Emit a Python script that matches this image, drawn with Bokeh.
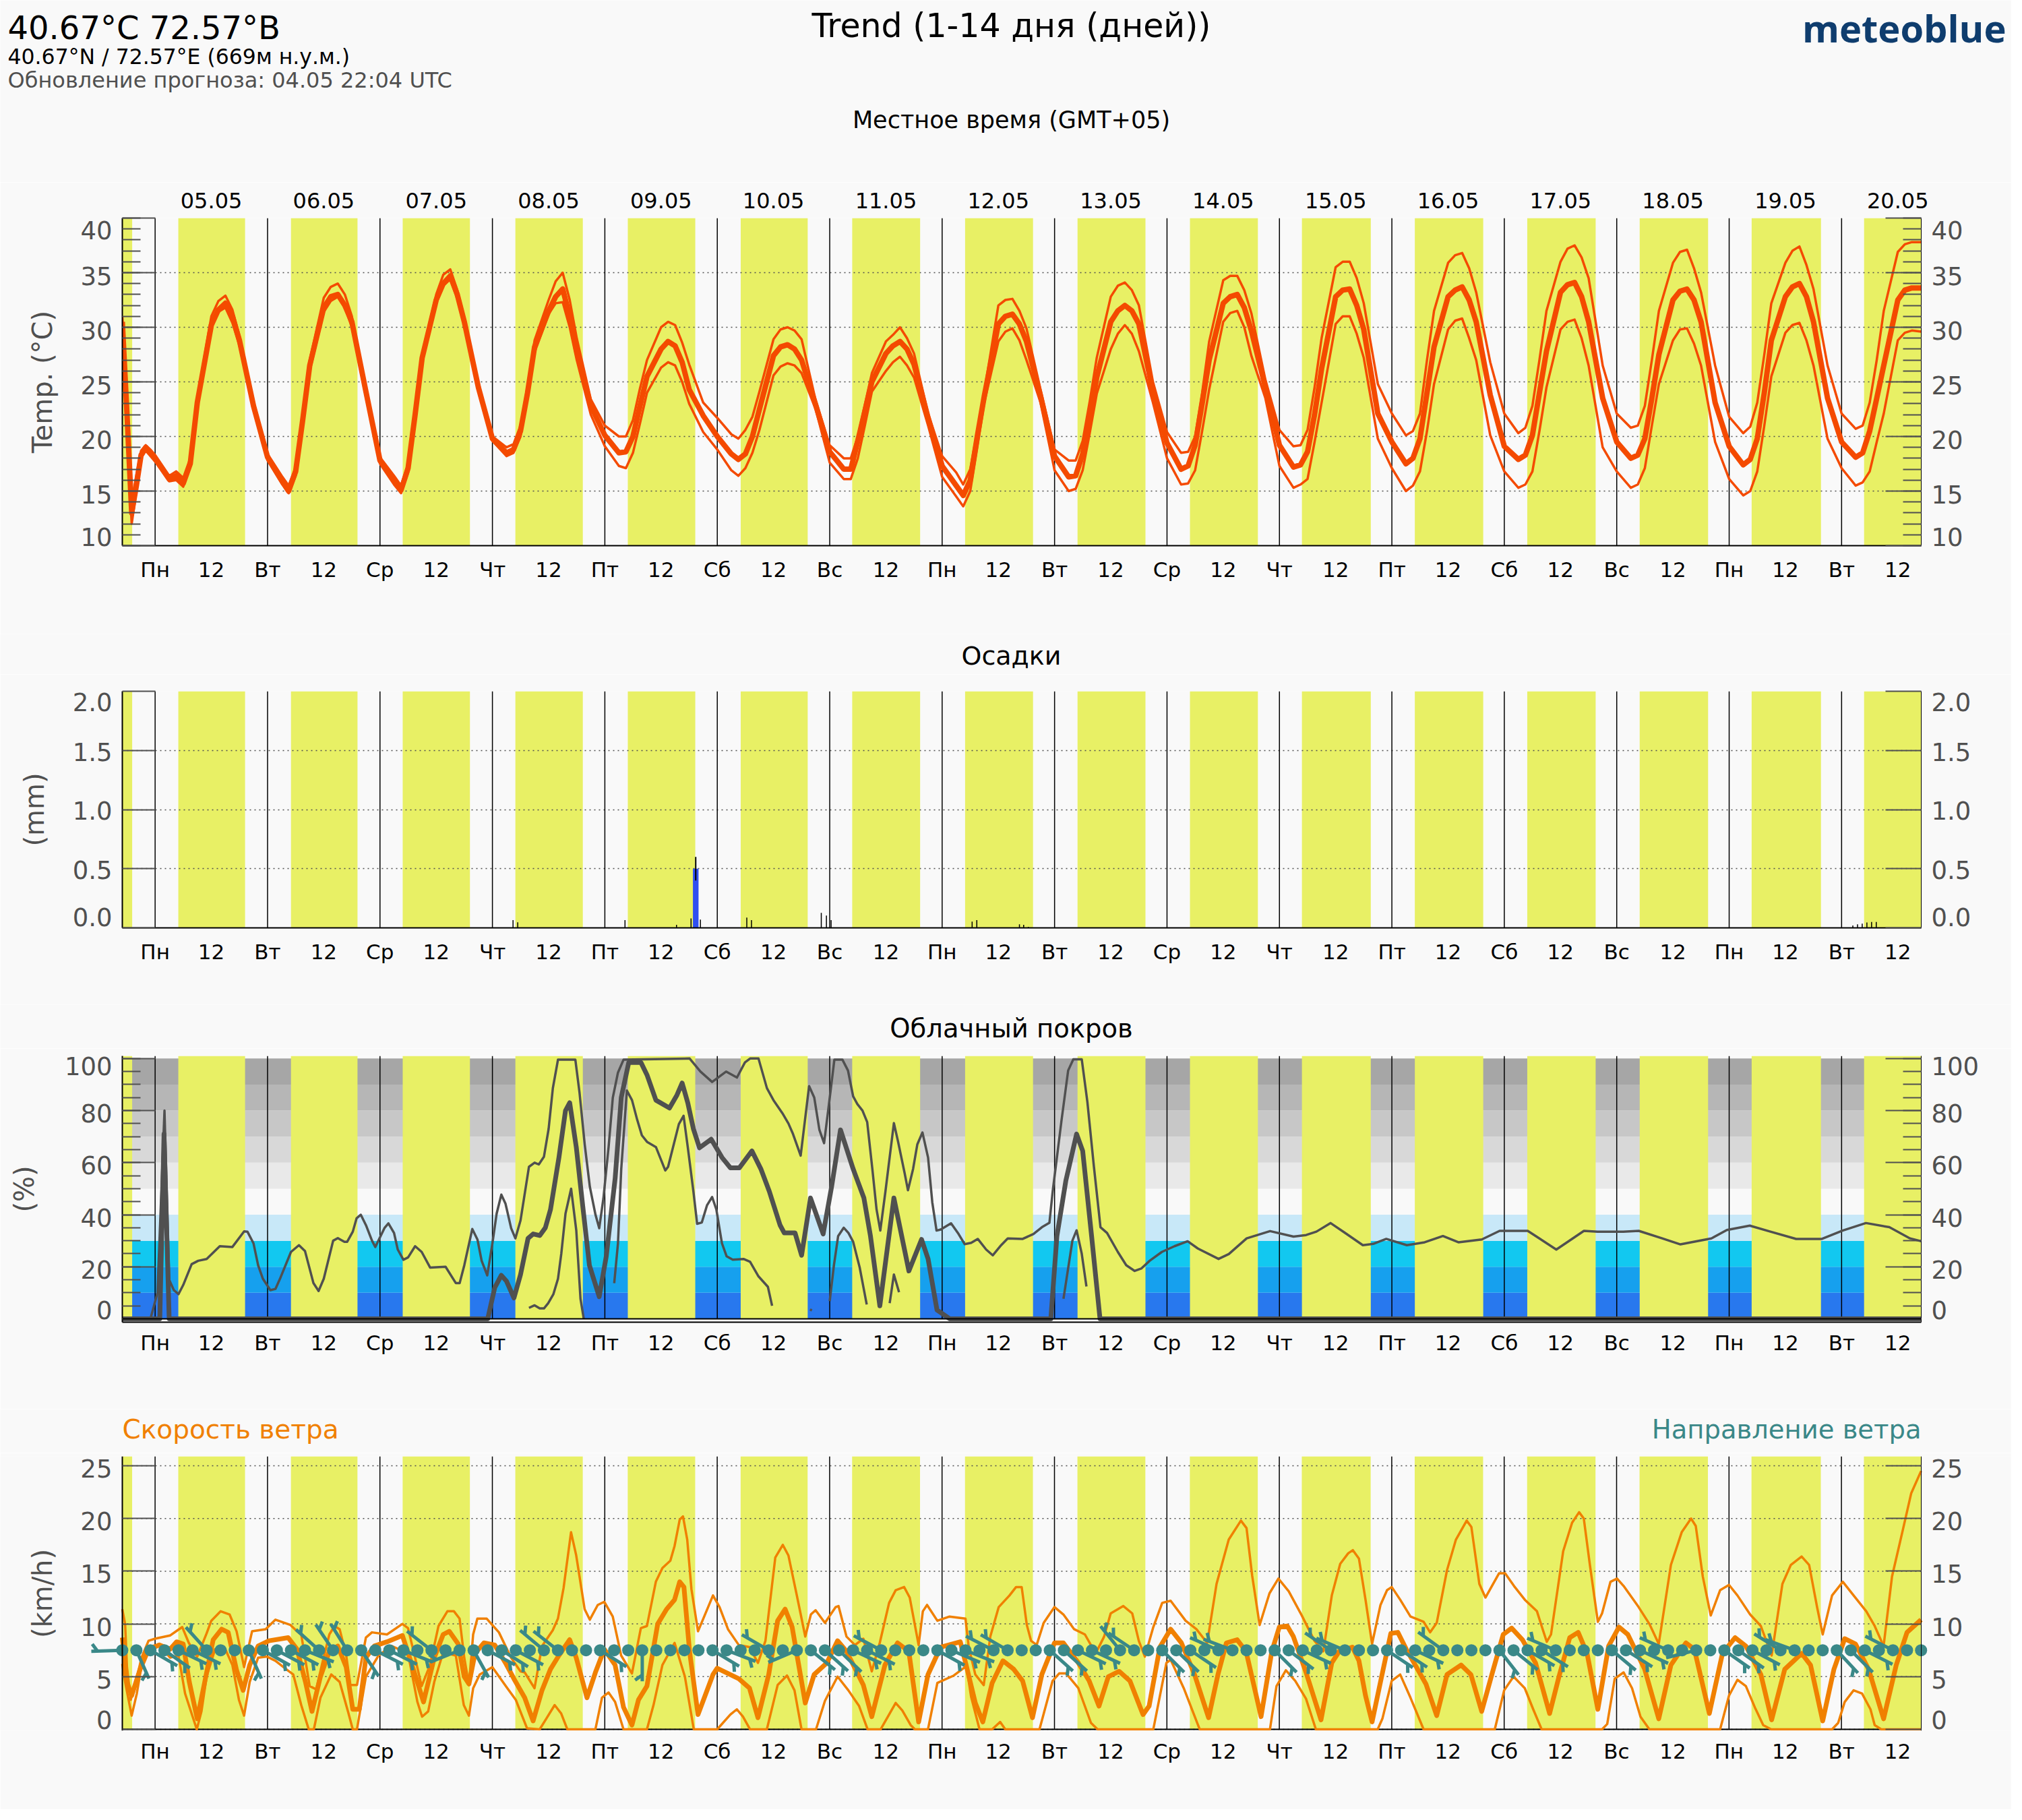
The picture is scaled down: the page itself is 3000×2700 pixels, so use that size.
import numpy as np
from bokeh.core.properties import value
from bokeh.embed import file_html
from bokeh.layouts import column
from bokeh.models import FixedTicker, Grid, LinearAxis, Range1d, Span
from bokeh.plotting import figure
from bokeh.resources import INLINE

BG = "#f9f9f9"
YELLOW = "#e8f065"
TEMP_COLOR = "#f44a00"
CLOUD_COLOR = "#505050"
WIND_COLOR = "#f08000"
TEAL = "#3a8888"
FONT = "DejaVu Sans"
PAGE_WIDTH = 2984

# the hour axis: 0 is midnight of 05.05
HOUR_START = -7
HOUR_END = 377
X_ZERO = 229.6
HOUR_PX = 6.95

day_names = ["Пн", "Вт", "Ср", "Чт", "Пт", "Сб", "Вс", "Пн", "Вт", "Ср", "Чт", "Пт", "Сб", "Вс", "Пн", "Вт"]
dates = ["05.05", "06.05", "07.05", "08.05", "09.05", "10.05", "11.05", "12.05",
         "13.05", "14.05", "15.05", "16.05", "17.05", "18.05", "19.05", "20.05"]

# daylight, hours since 05.05 00:00
sun_up = [-7, 4.95, 29, 52.85, 76.9, 100.9, 125, 148.8, 172.9, 196.9, 220.9, 244.8, 268.9, 292.9, 316.9, 340.8, 364.8]
sun_down = [-4.9, 19.2, 43.2, 67.2, 91.3, 115.3, 139.3, 163.3, 187.4, 211.4, 235.4, 259.5, 283.5, 307.5, 331.5, 355.6, 377]

# first the hours before midnight, then one row per day, then the last short day
temp_day_hours = [0, 3, 4.5, 6, 7.5, 9, 12, 13.5, 15, 16.5, 18, 21]
temp_hours = [-7, -6, -5, -4, -3, -2, -1]
for day in range(15):
    temp_hours += [24 * day + h for h in temp_day_hours]
temp_hours += [360, 363, 364.5, 366, 367.5, 369, 372, 373.5, 375, 377]

temp_mean = [
    30.5, 22, 13, 15.5, 18.3, 19, 18.5,
    18, 16.1, 16.4, 15.7, 17.5, 23.1, 30.2, 31.6, 32.2, 31, 28.8, 22.8,
    18.1, 16, 15, 16.8, 21.5, 26.5, 31.8, 32.8, 33, 32, 30.5, 24.1,
    17.8, 16, 15.1, 17.1, 22, 27.2, 32.5, 34, 34.7, 33, 30.5, 24.5,
    19.8, 18.5, 18.8, 20.5, 24, 28.2, 31.5, 32.8, 33.5, 31, 27.8, 22.8,
    20.1, 18.5, 18.6, 20, 22.8, 25.5, 28, 28.7, 28.3, 26.8, 24.3, 21.9,
    20, 18.4, 17.9, 18.4, 20, 22.5, 27.4, 28.2, 28.4, 28, 27, 22.9,
    18.6, 17, 17, 19.6, 22.3, 25, 27.6, 28.3, 28.7, 28, 26.6, 21.7,
    17.3, 15.5, 14.6, 16, 20, 23.7, 30.3, 31, 31.2, 30.3, 28.7, 23.7,
    18.2, 16.3, 16.4, 18.4, 21.8, 25.4, 30.5, 31.5, 32, 31.5, 30.3, 24.1,
    19.4, 17, 17.3, 19.2, 23, 27, 32.2, 32.8, 33, 31.8, 29.7, 24.5,
    19.2, 17.2, 17.4, 18.6, 22, 26.2, 32.8, 33.4, 33.5, 32, 29.8, 22.1,
    19.5, 17.5, 18, 19.8, 24, 28.2, 32.8, 33.4, 33.7, 32.5, 30.5, 23.8,
    19.1, 17.9, 18.3, 20.1, 24, 27.8, 33.2, 33.9, 34.1, 32.8, 30.5, 23.5,
    19.5, 18, 18.3, 19.8, 23.5, 27.5, 32.5, 33.3, 33.5, 32.5, 30.5, 23.1,
    19.1, 17.4, 17.9, 19.8, 24, 28.8, 32.8, 33.7, 34, 32.8, 30.5, 23.5,
    19.5, 18.1, 18.5, 20.5, 23.5, 26.5, 32.5, 33.4, 33.6, 33.6,
]
temp_upper = [
    31, 23, 14, 16.5, 18.7, 19.2, 18.8,
    18.3, 16.4, 16.8, 16.2, 18, 23.5, 31, 32.4, 32.9, 31.6, 29.2, 23.2,
    18.4, 16.4, 15.5, 17.2, 22, 27, 32.7, 33.7, 34, 33, 31, 24.5,
    18.1, 16.4, 15.5, 17.5, 22.4, 27.6, 33, 34.8, 35.3, 33.4, 30.9, 24.8,
    20, 19, 19.3, 21, 24.6, 28.8, 32.5, 34.2, 35, 32.5, 29, 23.4,
    21, 20, 20, 21.5, 24.4, 27, 30, 30.5, 30.2, 28.6, 26.6, 23.1,
    21.7, 20.2, 19.8, 20.6, 21.8, 24.1, 28.9, 29.8, 30, 29.7, 28.9, 23.3,
    19.2, 18, 18, 20, 22.9, 25.8, 28.7, 29.3, 30, 29, 27.6, 22.1,
    18.2, 16.7, 15.6, 17, 20.5, 24.1, 32, 32.5, 32.6, 31.5, 29.9, 24.3,
    18.8, 17.8, 17.8, 19.6, 23.2, 27.2, 32.8, 33.8, 34.1, 33.4, 32, 25,
    20.4, 18.5, 18.6, 20, 24, 28.7, 34.3, 34.7, 34.7, 33.4, 31.3, 25.2,
    20.6, 19.1, 19.2, 20.6, 24.5, 29, 35.5, 36, 36, 34.5, 32.2, 24.8,
    22.1, 20.1, 20.5, 22.1, 27, 31.5, 35.9, 36.6, 36.8, 35.4, 33.2, 26.8,
    22.1, 20.3, 20.8, 22.8, 27, 31.5, 36, 37.2, 37.5, 36.4, 34.5, 26.5,
    22.1, 20.8, 21, 22.8, 27, 31.5, 35.9, 36.9, 37.1, 35.4, 33.2, 26.5,
    21.8, 20.3, 20.9, 23.1, 27.5, 32.2, 35.9, 37, 37.4, 35.7, 33.5, 26.5,
    22.1, 20.7, 21, 23.1, 27, 31.5, 36.9, 37.6, 37.8, 37.8,
]
temp_lower = [
    29, 20, 12, 15, 18, 18.7, 18.2,
    17.7, 15.9, 16, 15.4, 17.2, 22.6, 30.1, 31.4, 31.8, 30.4, 28.3, 22.5,
    17.8, 15.7, 14.8, 16.4, 21, 26, 31.4, 32.4, 32.8, 31.8, 30, 23.6,
    17.5, 15.6, 14.8, 16.7, 21.5, 26.9, 32.2, 33.8, 34.4, 32.6, 30.2, 24.2,
    19.6, 18.2, 18.5, 20, 23.5, 27.7, 31.2, 32.2, 32.3, 30, 27, 22,
    19.1, 17.3, 17.1, 18.5, 21.2, 24, 26.3, 26.8, 26.5, 25, 23, 20.4,
    18.8, 16.9, 16.4, 17.1, 18.5, 20.6, 25.6, 26.4, 26.7, 26.5, 25.8, 22.5,
    17.6, 16.1, 16.1, 18, 21, 24.1, 26, 26.8, 27.3, 26.5, 25.4, 21,
    16.3, 14.5, 13.6, 15, 19, 23.1, 28.7, 29.6, 29.9, 28.8, 27, 23.1,
    16.9, 15, 15.2, 16.9, 20.3, 23.9, 28, 29.4, 30.2, 29.4, 27.8, 23.1,
    18, 15.6, 15.7, 16.9, 20.5, 24.3, 30.5, 31.3, 31.5, 30, 27.4, 23.5,
    17.3, 15.3, 15.6, 16.1, 19.5, 23.1, 30.3, 31, 31, 29.4, 27.2, 19.8,
    17.1, 15, 15.5, 16.8, 20.5, 24.8, 29.8, 30.6, 30.8, 29, 27, 20.1,
    16.8, 15.3, 15.6, 16.8, 20.5, 24.5, 29.8, 30.5, 30.7, 29, 26.5, 19,
    16.8, 15.3, 15.6, 17.1, 21, 24.8, 28.8, 29.8, 29.9, 28.5, 26.5, 19.5,
    16.1, 14.6, 15, 16.8, 21, 25.5, 29.5, 30.2, 30.4, 28.8, 26.5, 19.8,
    17.1, 15.5, 15.8, 16.8, 19.5, 22.1, 28.8, 29.5, 29.7, 29.6,
]

precip_hours = [115.4]
precip_values = [0.5]
precip_low = [0.4]
precip_high = [0.6]
trace_hours = [76.4, 77.4, 100.3, 111.3, 114.4, 116.4, 126.3, 127.3, 142.2, 143.3, 144.3, 174.4, 175.4, 184.5, 185.4, 186.4,
               362.4, 363.4, 364.4, 365.4, 366.4, 367.4]
trace_values = [0.065, 0.047, 0.065, 0.025, 0.08, 0.07, 0.087, 0.065, 0.127, 0.104, 0.065,
                0.053, 0.065, 0.03, 0.025, 0.008, 0.02, 0.03, 0.035, 0.045, 0.05, 0.05]

# cloud backdrop, every 10 %, from the bottom up
cloud_levels = [0, 10, 20, 30, 40, 50, 60, 70, 80, 90, 100]
cloud_shades = ["#2878ee", "#16a0ee", "#12c8f0", "#c8e8f8", BG, "#e9e9e9", "#d8d8d8", "#c7c7c7", "#b6b6b6", "#a6a6a6"]

cloud_upper = [
    (-1, 0), (0.5, 10), (2, 80), (3, 15), (4, 11), (5, 9.5), (6, 13), (7.8, 21), (9.2, 22.3), (11, 23), (13.8, 27.9),
    (16.5, 27.6), (19, 33.6), (19.7, 33.5), (21, 29), (22, 20.5), (23, 15.4), (24.6, 11), (25.7, 11.5), (26.8, 16),
    (29, 25.7), (30.7, 28.3), (32, 26), (33.8, 13.7), (34.9, 10.7), (36, 15.4), (38, 30), (39, 31), (40.4, 29.6),
    (41, 29.6), (42.2, 33.5), (43, 38.6), (43.9, 40), (45, 36), (46.3, 30), (47, 27.6), (49, 35), (49.8, 36.7),
    (51, 33), (51.8, 26.6), (53, 22.7), (54, 23.6), (55.5, 27.9), (56.9, 25.7), (58.7, 19.7), (62, 20), (64.2, 13.7),
    (65, 13.7), (66, 20.6), (67.7, 34.5), (68.8, 30.5), (69.7, 22.3), (70.9, 16.7), (72, 29), (72.9, 40.4), (73.9, 47.7),
    (74.8, 44.2), (76, 34.8), (76.9, 30.9), (78, 37.8), (79.8, 58.4), (81, 60), (81.9, 59.3), (83, 62.3), (84, 73),
    (84.9, 88.6), (86, 99.6), (89.7, 99.6), (90.6, 86.8), (91.7, 67), (92.8, 50.7), (94, 40), (94.8, 34.8), (95.7, 46.4),
    (96.8, 66), (97.7, 85), (98.8, 94.6), (100, 99.6), (114.1, 100), (116.4, 95), (118.9, 91), (121.9, 95), (124.2, 92.7),
    (125.9, 98.5), (127, 100), (128.8, 100), (130.6, 88.6), (132, 84), (133.9, 79), (135.2, 75), (136.1, 71.3), (137.8, 62.7),
    (139.6, 89.4), (140.7, 85), (141.8, 72.6), (142.8, 67.5), (143.9, 83.4), (145, 99.6), (146.7, 99.6), (147.9, 95.4),
    (149, 85.5), (149.9, 82.5), (151, 80), (152, 75.6), (153.1, 57.6), (154, 42), (154.8, 33.9), (155.9, 49), (157.7, 75.2),
    (158.6, 68), (160, 55.9), (160.7, 49.4), (161.8, 57.6), (162.7, 67), (163.8, 71.6), (165, 61.9), (165.9, 44.7),
    (166.8, 33.9), (167.7, 34.3), (169.9, 36.7), (171.5, 32.6), (172.8, 28.7), (174.2, 29.2), (175.6, 30.7), (177.4, 26.6),
    (178.8, 24.4), (180.6, 28.3), (182, 30.9), (185.2, 30.7), (187.5, 32.6), (189.3, 35.2), (190.9, 36.9), (191.6, 49),
    (193.5, 76.5), (194.9, 95.4), (196, 99.7), (197.8, 99.7), (199, 83.4), (200.4, 58.4), (201.8, 35.2), (203.2, 33),
    (205.5, 25.7), (207.3, 20.6), (209.1, 18.4), (210.5, 19.3), (212.3, 22.3), (214.9, 25.7), (217.6, 27.9), (220.4, 29.8),
    (222.6, 27), (227, 23), (229.2, 24.9), (233, 30.9), (238, 33.7), (243, 31.6), (245.7, 32.2), (247.9, 33.5), (250.9, 36.8),
    (254, 33), (257.8, 28.3), (260, 28.8), (262.8, 30.7), (267.2, 28.3), (271, 29.4), (274.9, 31.8), (278.2, 29.4),
    (283.2, 30.5), (287, 33.8), (293, 33.8), (299.1, 26.6), (305, 33.8), (307.9, 33.5), (313.4, 33.5), (316.7, 33.8),
    (321.7, 30.9), (325.6, 28.6), (332.2, 30.9), (335.5, 34.1), (340.4, 35.8), (344.8, 33.5), (350.3, 30.7), (355.8, 30.7),
    (360.2, 33.9), (365.2, 36.8), (370.2, 35.2), (374.6, 30.9), (377, 29.8),
]
cloud_mean = [
    (-7, 0), (1, 0), (1.9, 71), (3, 0), (71, 0), (72.5, 12), (73.9, 16.7), (75, 14.5), (76.6, 8), (78, 17), (79.6, 30.9),
    (80.7, 32.6), (82.1, 32), (83.3, 35), (84.4, 42), (86.2, 62), (87.6, 80), (88.5, 83), (89.9, 66), (91.3, 43),
    (92.7, 20.6), (94.8, 8.5), (96.3, 24), (98.2, 54), (99.5, 85), (101.1, 98.5), (103.7, 98.5), (105, 93.7), (106.9, 84),
    (109.8, 81), (111.4, 86), (112.5, 90.6), (113.7, 83), (114.9, 73), (116.2, 65.7), (118.7, 69), (121, 62), (122.8, 58),
    (124.7, 58), (127.4, 64.5), (129.3, 57.6), (131.1, 49), (133.4, 36), (134.3, 33), (136.6, 33), (138, 24.4), (139.9, 46.4),
    (142.6, 32.6), (144.4, 50.7), (146.3, 72.6), (149, 57.6), (151.3, 46.4), (152.7, 31.8), (154.7, 5), (157.7, 46.4),
    (160.9, 18.4), (163.6, 30.5), (165, 23), (166.9, 3.4), (169.6, 0), (191.2, 0), (192.5, 31.8), (194.4, 53), (196.7, 71),
    (198, 64.5), (199.9, 31.8), (201.7, 0), (377, 0),
]
cloud_lower_parts = [
    [(79.8, 4.2), (81, 5.2), (82.1, 4), (83, 4), (83.9, 6), (85, 9.4), (86, 15.4), (86.7, 25), (87.6, 40.4), (88.8, 50),
     (89.9, 34), (90.8, 7.7), (91.5, 0)],
    [(98, 13.7), (98.8, 29), (99.5, 57.6), (100.7, 87.7), (101.8, 84), (102.9, 76.5), (103.9, 70.5), (105, 68), (106.9, 66),
     (108.9, 57), (109.5, 58.4), (111.8, 74.8), (112.8, 78), (113.7, 66), (114.9, 49), (115.7, 36.5), (116.7, 37), (117.8, 43.6),
     (118.9, 46.8), (119.8, 42), (121, 29), (122, 24), (123.3, 22.7), (125.6, 23), (127, 21.9), (128.8, 16.3), (130.8, 12.3),
     (131.7, 5)],
    [(139.8, 3.6), (140.2, 3.2)],
    [(144, 6.8), (144.9, 20.6), (145.8, 31.8), (147, 35), (148, 33), (149, 29.6), (150.4, 19.7), (151.9, 5.5)],
    [(156.8, 6), (157.7, 17), (158.8, 10.2)],
    [(193.9, 7.7), (195.8, 30), (196.7, 34), (197.8, 25), (198.8, 12.4)],
]

wind_upper = [
    (-7, 11.4), (-6.4, 10), (-6, 5.9), (-5.2, 2.8), (-4.1, 4.5), (-2.9, 6.8), (-1.4, 8.4), (0, 8.6), (3.2, 8.9), (4.8, 9.4),
    (5.8, 9.7), (7.2, 8.2), (9, 6.9), (11, 9.1), (12, 10.3), (14, 11.2), (15.9, 10.9), (17.4, 9.3), (19, 5.9), (20.7, 9.3),
    (23.6, 9.5), (25.7, 10.4), (28.9, 9.9), (30.3, 9.3), (31.2, 9), (33, 4.1), (34.4, 3.8), (35.6, 6.1), (37.2, 9), (38.3, 9.8),
    (39.4, 9.5), (40.8, 7), (41.7, 4.2), (43.1, 4.2), (45, 8.7), (46.3, 9.2), (49.5, 9), (52.8, 10), (54, 9.6), (55.5, 6.8),
    (56.9, 4.1), (58.7, 6.1), (60.5, 9.8), (62.4, 11.2), (63.8, 11.2), (65, 10.5), (66, 6.8), (67, 4.2), (67.9, 9), (68.8, 10.5),
    (70.8, 10.5), (73.4, 9.2), (76, 6.8), (78, 5.5), (78.9, 5.4), (81, 3.9), (82.6, 7.9), (84.9, 9.4), (86, 10.5), (87.2, 13.4),
    (88.8, 18.7), (89.9, 16.5), (91.7, 11.4), (92.8, 10.4), (94.5, 11.8), (95.9, 12.1), (97.7, 10.7), (99.5, 7), (101.8, 5.3),
    (103.7, 9.6), (105, 9.8), (106.9, 14), (108.3, 15.3), (110, 16), (110.9, 17.4), (112, 19.9), (112.7, 20.2), (113.6, 18),
    (114.5, 13.3), (115.9, 9.3), (119.1, 12.7), (120.5, 11.6), (122.3, 9.5), (124.6, 8), (126.9, 7.8), (128.7, 6.3), (130.3, 8.4),
    (132.4, 16.3), (134, 17.5), (135.2, 16.5), (137, 12.7), (138.8, 8.8), (140, 10.9), (141, 11.3), (143, 10.1), (145.3, 11.6),
    (145.9, 11.7), (147.6, 8.8), (149.4, 8), (151.2, 8.6), (153, 5.5), (154.7, 8.2), (156.7, 12), (158.1, 13.2), (159.9, 13.5),
    (161.1, 12.5), (163, 8), (163.9, 11.2), (164.8, 11.8), (167, 10.3), (169.6, 10.7), (173, 10.5), (173.7, 7.8), (175.1, 5.2),
    (176.9, 4.2), (178.3, 8.8), (180.1, 11.6), (182.4, 12.7), (183.8, 13.5), (185, 13.5), (186.1, 9.9), (187, 8.4), (188.2, 8),
    (189.7, 10.1), (192, 11.6), (193.9, 10.9), (196.2, 9.5), (198.5, 9), (200.8, 7.2), (202.6, 8.8), (204, 11), (206.7, 11.7),
    (208.6, 11), (210, 8.4), (211.3, 6.9), (213.1, 9.7), (215, 12), (216.8, 12.2), (220, 10.3), (222.3, 9.5), (224.6, 8.2),
    (226.6, 13.8), (229.2, 18), (231.8, 19.8), (233, 19.1), (234.2, 14.6), (235.8, 9.9), (237.9, 12.9), (239.8, 14.3), (242, 13.1),
    (244.8, 10.8), (247.5, 8.4), (249.4, 7.4), (251.2, 12.7), (253, 15.7), (254.7, 16.7), (255.7, 17), (257, 16.2), (258.4, 12.3),
    (259.8, 8.1), (261.6, 11.8), (263, 13.2), (264, 13.5), (265.8, 12.3), (268, 10.7), (270.8, 10.2), (272.2, 9.2), (273.6, 10.1),
    (275.8, 15.1), (277.7, 18), (280, 19.8), (281, 19.2), (282.7, 13.8), (284, 12.5), (286.9, 14.8), (288.2, 14.8), (290.1, 13.6),
    (292.4, 12.3), (295, 11.2), (296, 9.8), (297.1, 8.3), (298, 9), (300.6, 16.9), (302.5, 19.6), (304, 20.6), (305, 20), (306.3, 15.6),
    (308, 10.2), (308.9, 11), (310.7, 14), (312.1, 14.3), (313.5, 13.6), (316.7, 11.6), (319, 10), (321, 8.1), (323.6, 15.6),
    (325.9, 18.7), (327.9, 20), (328.9, 19.3), (330.4, 14.5), (332.1, 10.8), (334.1, 13.2), (336, 13.7), (337.8, 12.7), (340.5, 10.9),
    (342.8, 9.8), (345.1, 7), (347.4, 13.8), (349.2, 15.6), (351.5, 16.4), (353.1, 15.6), (354.8, 11.6), (356, 9), (358, 12.7),
    (360.3, 14), (362.6, 12.7), (365.3, 11.2), (367.1, 9.8), (369, 7.9), (370.8, 14.5), (373.1, 18.9), (374.9, 22.4), (377, 24.5),
]
wind_mean = [
    (-7, 8.7), (-6, 4.5), (-5, 3.2), (-3.2, 5.7), (-1.4, 7.6), (0.9, 8), (3.2, 7.6), (4.6, 8.3), (6, 8.1), (7.3, 4.5), (9, 1),
    (10.6, 4.5), (12.4, 8.5), (14.2, 9.5), (15.6, 9.2), (17.4, 5.6), (18.8, 3.7), (20.2, 6.1), (22, 7.9), (24.3, 8.4), (28.4, 8.7),
    (30.3, 7.6), (32.1, 4.5), (33.5, 1.7), (35.3, 5), (37.2, 7.4), (39, 7.9), (40.8, 5.9), (42.2, 1.9), (43.6, 1.9), (45, 6.8),
    (46.8, 7.9), (49.5, 8.3), (52.8, 8.9), (55, 5.9), (57.3, 2.6), (59.6, 6.8), (61.5, 9), (62.8, 9.3), (64.7, 8.1), (66, 5),
    (67, 4.3), (68.3, 7.2), (70.2, 8.2), (72.5, 8), (74.8, 6.3), (76.6, 4.8), (78.9, 3), (80.7, 0.8), (82.6, 3.7), (84.4, 5.7),
    (86.2, 7), (88.5, 8.5), (89.9, 6.8), (92.2, 3), (94, 5.4), (95.9, 7.6), (98.2, 6.1), (100, 2.1), (101.8, 0.4), (103.2, 2.8),
    (105, 4.1), (107.3, 10), (109.2, 11.4), (110.9, 12.3), (112, 14), (112.9, 13.5), (114.1, 7.4), (115.9, 1.4), (119.1, 5.2),
    (120, 5.8), (124.6, 4.8), (126.9, 3.9), (128.7, 1.1), (131, 5.2), (132.9, 10.3), (134.5, 11.4), (136, 9.7), (138.8, 2.5),
    (140.7, 5.2), (143.4, 6.3), (145.7, 8.4), (147.6, 7.4), (151.2, 4.2), (153, 1.2), (155.8, 6.1), (158.5, 8.2), (160.9, 7.4), (163, 0.7),
    (165, 5.2), (167.7, 7.8), (171.9, 8.3), (173.2, 6), (175.1, 2.5), (176.7, 0.7), (178.7, 4.4), (181, 6.5), (183.3, 5.7), (185.2, 4.6),
    (187.3, 1.1), (189.3, 5.2), (192, 8.2), (193.9, 8.2), (197.1, 6.3), (199.4, 4.6), (201.5, 2.2), (203.5, 5), (205.8, 5.5), (208.1, 4.6),
    (210.9, 1.4), (212.2, 2.2), (214.5, 7.8), (216.8, 9.5), (219.1, 8.2), (221.9, 5.2), (224.9, 1.1), (226.9, 5.2), (228.7, 8.2), (231, 8.5),
    (232.9, 7.4), (236.1, 1.2), (238.4, 7.4), (240, 9.7), (241.7, 9.8), (243, 8.8), (245.7, 5.4), (248.9, 0.9), (251.2, 6.3), (252.8, 7.4),
    (255.6, 7.8), (257, 6.5), (258.4, 3.2), (259.8, 0.7), (261.6, 4.5), (263.8, 9.1), (265.3, 9.2), (267.1, 7.6), (271.3, 4.3), (273.6, 1.3),
    (275.8, 5.2), (278.8, 6.1), (280.9, 5.2), (283.2, 1.7), (285.5, 5.4), (287.8, 9), (289.6, 9.6), (291.9, 8.5), (294.7, 6.3), (297.7, 1.5),
    (299.7, 5), (302, 8.7), (303.8, 9.2), (305.7, 7.2), (308, 1.9), (310.3, 7.9), (312.5, 9.7), (314.4, 9), (318, 5.7), (321, 1),
    (323.6, 6.1), (326.8, 8.2), (328.6, 7.6), (331.8, 1.5), (334.6, 7.2), (337.3, 8.7), (339.6, 7.9), (342.8, 5.2), (345.1, 0.9),
    (347.9, 5.7), (351.5, 7.2), (353.4, 6.1), (356, 0.8), (358.4, 5.7), (360.7, 8.6), (363, 8.1), (365.8, 5.7), (369, 1), (371.7, 6.1),
    (374, 9.2), (377, 10.4),
]
wind_lower = [
    (-7, 6.2), (-6.4, 4.5), (-5, 1.3), (-3.9, 3.4), (-2.8, 6.3), (-0.9, 7.9), (0.9, 8), (3.2, 6.8), (5, 7), (6.4, 3.4), (8.9, 0),
    (9.9, 1.7), (11, 5), (12.8, 7.6), (15.1, 7.5), (16.5, 6.1), (17.9, 2.8), (19, 1.3), (20.2, 4.5), (22, 6.8), (23.9, 6.9), (25.7, 6.5),
    (28, 5.7), (29.5, 5.2), (31.2, 2.3), (32.8, 0), (33.9, 0), (35.3, 3), (37.6, 5.2), (39.4, 4.5), (41.3, 1.5), (42.2, 0), (43.1, 0),
    (45, 5), (47.7, 7), (50.5, 7.9), (54, 7.2), (56, 2.6), (57, 1.2), (58.3, 1.7), (59.6, 4.5), (61.5, 7.3), (64.2, 7), (65.9, 2.3),
    (67, 1.3), (67.9, 3.9), (69.3, 5.2), (72, 5.9), (75.2, 3.9), (77, 2.8), (79.4, 0.1), (82.1, 0), (83.5, 1), (85.3, 2.3), (86.7, 1.5),
    (88, 0), (94, 0), (95.4, 3), (96.8, 3.5), (98.2, 2.6), (100, 0), (105, 0), (106.4, 2.3), (108.3, 6.1), (110.9, 8.2), (113.1, 5),
    (115, 0), (120, 0), (122.8, 1.4), (124.2, 1.9), (125.5, 1.2), (127, 0), (130.6, 0), (132.9, 4.2), (134.9, 5.1), (136.5, 3.7), (138, 0),
    (141.1, 0), (143, 2.7), (145.7, 5), (148, 3.7), (150.3, 2.2), (152.1, 0), (154.9, 0), (158.1, 2.5), (159.5, 1.8), (161.3, 0.4),
    (162.2, 0), (165, 0), (167, 4.4), (170.5, 5.1), (173.2, 6), (174.2, 3.1), (176, 0), (178.7, 0), (180.4, 0.7), (181.5, 0), (188.8, 0),
    (191.6, 4.6), (193, 5.3), (194.5, 5.3), (197.1, 3.9), (199.8, 0.6), (201.2, 0), (213.1, 0), (215.9, 6.3), (216.8, 6.6), (219.6, 3.9),
    (223, 0), (238, 0), (239.4, 4.1), (241.4, 5.6), (243.4, 4.6), (245.7, 2.9), (247.8, 0), (261, 0), (262, 1), (264, 4.6), (265.8, 5.2),
    (268, 3), (270.8, 0), (286, 0), (288, 3.7), (290, 5), (292.4, 3.9), (294.2, 1.9), (296, 0), (308.9, 0), (310, 0.5), (311.6, 4.8),
    (313.5, 5.4), (315.3, 3.9), (317.1, 1.2), (319, 0), (334.1, 0), (336, 3.2), (337.8, 4.7), (339.6, 4.1), (341.5, 2.1), (343.3, 0.4),
    (345, 0), (358, 0), (359.3, 0.6), (360.7, 2.6), (362.6, 3.7), (364.4, 3.4), (366.2, 1.9), (367.1, 0.4), (368.5, 0), (377, 0),
]

# wind direction drawn at each dot, degrees clockwise from up; None = no barb
wind_dir_hours = list(range(-7, 378, 3))
wind_dir = [
    268, 156, 120, 125, 116, 116, 318, None,
    None, 156, 119, 118, 118, 112, 312, 326,
    328, 146, 117, 117, 112, None, 308, None,
    248, 151, 118, 122, 118, None, 310, 308,
    None, None, 122, None, None, 180, None, None,
    None, None, 121, 111, None, None, 300, None,
    247, 129, 132, 134, 115, 117, 298, None,
    None, None, 119, 113, 112, None, 297, 300,
    None, None, 132, 132, 116, 115, None, 321,
    304, None, 135, 134, 124, None, 294, 291,
    None, None, 135, 127, 115, None, 304, 293,
    None, None, 124, 123, 115, None, 306, None,
    None, None, 142, 129, 120, 122, 293, None,
    None, None, 130, 122, 115, None, 294, None,
    256, None, 125, 125, 118, None, 302, 290,
    None, None, 137, 135, 117, None, 297, None,
    None,
]
WIND_DOT_LEVEL = 7.5
BARB_PX = 46
FEATHER_PX = 13


def text_strip(top, bottom, texts):
    """A band without axes, its ranges are the picture's own rows and columns."""
    p = figure(width=PAGE_WIDTH, height=bottom - top, x_range=Range1d(0, PAGE_WIDTH), y_range=Range1d(bottom, top),
               x_axis_type=None, y_axis_type=None, toolbar_location=None, output_backend="svg",
               min_border_left=0, min_border_right=0, min_border_top=0, min_border_bottom=0,
               background_fill_color=BG, border_fill_color=BG, frame_align=False)
    p.outline_line_color = None
    p.grid.visible = False
    for text, x, y, size, align, color, font, style in texts:
        p.text(x=[x], y=[y], text=[text], text_font=value(font), text_font_size=f"{size}px", text_align=align,
               text_baseline="alphabetic", text_color=color, text_font_style=style)
    return p


def make_panel(start, frame_top, frame_bottom, end, y_start, y_end, major, minor, labels, offsets,
               axis_title, title_standoff, x_standoff, grid=True, wide=False):
    """One panel; arguments are picture rows so the panels line up with each other."""
    frame_h = frame_bottom - frame_top
    scale = frame_h / (y_end - y_start)

    # the wind panel has a frame over the whole width, so the barbs and dots at its ends are not cut
    if wide:
        x_range = Range1d(-X_ZERO / HOUR_PX, (PAGE_WIDTH - X_ZERO) / HOUR_PX)
        frame_w, border_l, border_r = PAGE_WIDTH, 0, 0
    else:
        x_range = Range1d(HOUR_START, HOUR_END)
        frame_w, border_l, border_r = 2669, 181, 134

    p = figure(width=PAGE_WIDTH, height=end - start, frame_width=frame_w, frame_height=frame_h,
               min_border_left=border_l, min_border_right=border_r, min_border_top=frame_top - start,
               min_border_bottom=end - frame_bottom, toolbar_location=None, output_backend="svg",
               x_range=x_range, y_range=Range1d(y_start, y_end), frame_align=not wide,
               x_axis_type=None, y_axis_type=None, background_fill_color=BG, border_fill_color=BG)
    p.outline_line_color = None

    # day and hour labels under the panel
    ticks = list(range(0, 373, 12))
    names = {}
    for t in ticks:
        names[t] = day_names[t // 24] if t % 24 == 0 else "12"
    xaxis = LinearAxis(ticker=FixedTicker(ticks=ticks), major_label_overrides=names,
                       major_tick_line_color=None, minor_tick_line_color=None,
                       axis_line_color=None if wide else "black", axis_line_width=2,
                       major_label_text_font=FONT, major_label_text_font_size="31px",
                       major_label_text_color="black", major_label_standoff=x_standoff)
    p.add_layout(xaxis, "below")

    # tick marks inside the frame; the numbers sit on their own axis because they are not on the ticks
    label_pos = []
    for v, off in zip(labels, offsets):
        label_pos.append(round(v - off / scale, 3))
    label_text = dict(zip(label_pos, [str(v) for v in labels]))
    for side, tick_in, edge in (("left", 49, HOUR_START), ("right", 53, HOUR_END)):
        marks = LinearAxis(ticker=FixedTicker(ticks=major, minor_ticks=minor),
                           major_label_overrides={m: "" for m in major},
                           major_tick_in=tick_in, major_tick_out=0, minor_tick_in=27, minor_tick_out=0,
                           major_tick_line_color="#505050", minor_tick_line_color="#505050",
                           major_tick_line_width=2, minor_tick_line_width=2,
                           axis_line_color="black", axis_line_width=2 if side == "left" else 1,
                           major_label_standoff=0, major_label_text_font_size="1px")
        nums = LinearAxis(ticker=FixedTicker(ticks=label_pos), major_label_overrides=label_text,
                          major_tick_line_color=None, minor_tick_line_color=None, axis_line_color=None,
                          major_tick_in=0, major_tick_out=0, minor_tick_out=0, minor_tick_in=0,
                          major_label_text_font=FONT, major_label_text_font_size="37px",
                          major_label_text_color="#505050", major_label_standoff=15)
        if wide:
            marks.fixed_location = edge
            nums.fixed_location = edge
        if side == "left":
            nums.axis_label = axis_title
            nums.axis_label_text_font = FONT
            nums.axis_label_text_font_size = "40px"
            nums.axis_label_text_font_style = "normal"
            nums.axis_label_text_color = "#505050"
            nums.axis_label_standoff = title_standoff
        p.add_layout(marks, side)
        p.add_layout(nums, side)

    if grid:
        p.add_layout(Grid(dimension=1, ticker=FixedTicker(ticks=major), grid_line_color="#505050",
                          grid_line_width=1.5, grid_line_dash=[2, 5]))
    return p


def add_daylight(p, bottom, top):
    p.quad(left=sun_up, right=sun_down, bottom=bottom, top=top, fill_color=YELLOW, line_color=None, level="image")


def add_midnights(p, bottom, top):
    days = [24 * i for i in range(16)]
    p.segment(x0=days, x1=days, y0=bottom, y1=top, line_color="black", line_width=1.5)


def split(pairs):
    return [a for a, _ in pairs], [b for _, b in pairs]


header = text_strip(0, 270, [
    ("40.67°C 72.57°B", 11, 40, 48, "left", "black", FONT, "normal"),
    ("40.67°N / 72.57°E (669м н.у.м.)", 11, 83, 31.5, "left", "black", FONT, "normal"),
    ("Обновление прогноза: 04.05 22:04 UTC", 11, 118, 32, "left", "#505050", FONT, "normal"),
    ("Trend (1-14 дня (дней))", 1500, 38, 49, "center", "black", FONT, "normal"),
    ("Местное время (GMT+05)", 1500, 177, 35, "center", "black", FONT, "normal"),
    ("meteoblue", 2976, 40, 56, "right", "#0f3d6e", "Open Sans", "bold"),
])

# temperature
p1 = make_panel(270, 323, 809, 940, 10, 40, [10, 15, 20, 25, 30, 35, 40], list(range(10, 41)),
                [10, 15, 20, 25, 30, 35, 40], [-13, 5, 5, 5, 5, 5, 18], "Temp. (°C)", 30, 11)
add_daylight(p1, 10, 40)
add_midnights(p1, 10, 40)
p1.line(temp_hours, temp_upper, line_color=TEMP_COLOR, line_width=3.5, line_join="round")
p1.line(temp_hours, temp_lower, line_color=TEMP_COLOR, line_width=3.5, line_join="round")
p1.line(temp_hours, temp_mean, line_color=TEMP_COLOR, line_width=8, line_join="round")

date_axis = LinearAxis(ticker=FixedTicker(ticks=[12 + 24 * i for i in range(16)]),
                       major_label_overrides={12 + 24 * i: d for i, d in enumerate(dates)},
                       major_tick_line_color=None, minor_tick_line_color=None, axis_line_color=None,
                       major_label_text_font=FONT, major_label_text_font_size="32px",
                       major_label_text_color="black", major_label_standoff=9)
p1.add_layout(date_axis, "above")

precip_title = text_strip(940, 1000, [("Осадки", 1500, 972, 38, "center", "black", FONT, "normal")])

# precipitation
p2 = make_panel(1000, 1025, 1376, 1490, 0, 2, [0, 0.5, 1, 1.5, 2], [],
                [0.0, 0.5, 1.0, 1.5, 2.0], [-16, 2, 2, 2, 16], "(mm)", 31, 11)
add_daylight(p2, 0, 2)
add_midnights(p2, 0, 2)
p2.vbar(x=precip_hours, width=1.2, bottom=0, top=precip_values, fill_color="#3050f0", line_color=None)
p2.segment(x0=precip_hours, x1=precip_hours, y0=precip_low, y1=precip_high, line_color="black", line_width=2)
p2.segment(x0=trace_hours, x1=trace_hours, y0=0, y1=trace_values, line_color="black", line_width=1.5)

cloud_title = text_strip(1490, 1555, [("Облачный покров", 1500, 1525, 38.5, "center", "black", FONT, "normal")])

# clouds
p3 = make_panel(1555, 1566, 1961, 2090, -1.3, 101, [0, 20, 40, 60, 80, 100], list(range(0, 101, 5)),
                [0, 20, 40, 60, 80, 100], [-13, 4, 4, 4, 4, 11], "(%)", 34, 6, grid=False)
for low, high, shade in zip(cloud_levels[:-1], cloud_levels[1:], cloud_shades):
    p3.quad(left=HOUR_START, right=HOUR_END, bottom=low, top=high, fill_color=shade, line_color=None, level="image")
add_daylight(p3, 0, 101)
add_midnights(p3, 0, 101)
p3.add_layout(Span(location=0, dimension="width", line_color="black", line_width=2))
for part in cloud_lower_parts:
    x, y = split(part)
    p3.line(x, y, line_color=CLOUD_COLOR, line_width=3.5, line_join="round")
x, y = split(cloud_upper)
p3.line(x, y, line_color=CLOUD_COLOR, line_width=3.5, line_join="round")
x, y = split(cloud_mean)
p3.line(x, y, line_color=CLOUD_COLOR, line_width=7, line_join="round")

wind_title = text_strip(2090, 2155, [
    ("Скорость ветра", 181, 2120, 39, "left", WIND_COLOR, FONT, "normal"),
    ("Направление ветра", 2850, 2120, 38.5, "right", TEAL, FONT, "normal"),
])

# wind
W_SCALE = 407 / 26.03
wind_ticks = [0, 5, 10, 15, 20, 25]
p4 = make_panel(2155, 2160, 2567, 2684, -0.13, 25.9, wind_ticks, [],
                wind_ticks, [-14, 4, 4, 4, 4, 4], "(km/h)", 30, 6, grid=False, wide=True)
add_daylight(p4, 0, 25.9)
# no Grid here, it would run past the hour range in the wider frame
wind_grid = p4.segment(x0=[HOUR_START] * 6, x1=[HOUR_END] * 6, y0=wind_ticks, y1=wind_ticks, line_color="#505050",
                       line_width=1.5, level="underlay")
wind_grid.glyph.line_dash = [2, 5]
add_midnights(p4, 0, 25.9)
p4.segment(x0=[HOUR_START], x1=[HOUR_END], y0=[0], y1=[0], line_color="black", line_width=2)
for series, lw in ((wind_upper, 3.5), (wind_lower, 3.5), (wind_mean, 7)):
    x, y = split(series)
    p4.line(x, y, line_color=WIND_COLOR, line_width=lw, line_join="round")

shaft = ([], [], [], [])
feather = ([], [], [], [])
for h, d in zip(wind_dir_hours, wind_dir):
    if d is None:
        continue
    a = np.radians(d)
    b = np.radians(d + 55)
    xf = h + 0.8 * BARB_PX * np.sin(a) / HOUR_PX
    yf = WIND_DOT_LEVEL + 0.8 * BARB_PX * np.cos(a) / W_SCALE
    shaft[0].append(h)
    shaft[1].append(WIND_DOT_LEVEL)
    shaft[2].append(h + BARB_PX * np.sin(a) / HOUR_PX)
    shaft[3].append(WIND_DOT_LEVEL + BARB_PX * np.cos(a) / W_SCALE)
    feather[0].append(xf)
    feather[1].append(yf)
    feather[2].append(xf + FEATHER_PX * np.sin(b) / HOUR_PX)
    feather[3].append(yf + FEATHER_PX * np.cos(b) / W_SCALE)
p4.segment(shaft[0], shaft[1], shaft[2], shaft[3], line_color=TEAL, line_width=5)
p4.segment(feather[0], feather[1], feather[2], feather[3], line_color=TEAL, line_width=5)
p4.scatter(wind_dir_hours, [WIND_DOT_LEVEL] * len(wind_dir_hours), size=18, fill_color=TEAL, line_color=None)

page = column(header, p1, precip_title, p2, cloud_title, p3, wind_title, p4, spacing=0)
open("out.html", "w").write(file_html(page, INLINE))
